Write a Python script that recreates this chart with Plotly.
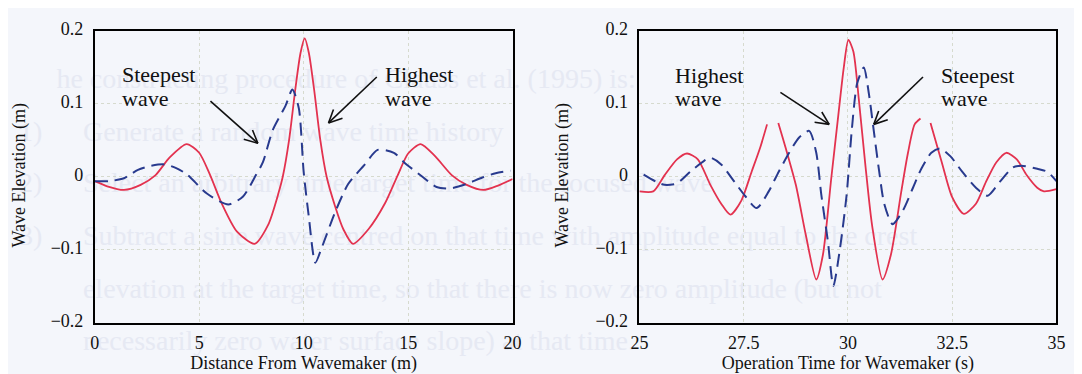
import math
import plotly.graph_objects as go

# ---------------- data ----------------
# Left panel: Distance From Wavemaker (m)
dist_red_x = [0, 0.6, 1.4, 2.2, 2.9, 3.6, 4.4, 5.0, 5.5, 6.1, 6.8, 7.65, 8.3, 8.8,
              9.0, 9.3, 9.6, 9.85, 10.05, 10.25, 10.5, 10.8, 11.1, 11.5, 11.9, 12.36,
              13.1, 13.9, 14.5, 15.0, 15.6, 16.3, 17.1, 17.8, 18.6, 19.3, 20]
dist_red_y = [-0.006, -0.013, -0.018, -0.011, 0.002, 0.027, 0.045, 0.033, 0.004, -0.038,
              -0.075, -0.092, -0.066, -0.022, 0.0, 0.05, 0.12, 0.17, 0.19, 0.17, 0.12,
              0.05, 0.0, -0.04, -0.072, -0.092, -0.072, -0.036, 0.002, 0.032, 0.045,
              0.028, 0.002, -0.011, -0.018, -0.012, -0.003]

dist_blue_x = [0, 0.67, 1.4, 2.07, 2.7, 3.34, 3.9, 4.43, 5.37, 6.4, 7.1, 7.73, 8.05, 8.52,
               9.14, 9.46, 9.77, 10.0, 10.24, 10.56, 10.87, 11.5, 12.13, 12.9, 13.54,
               14.32, 14.8, 15.73, 16.36, 17.0, 17.77, 18.55, 19.19, 19.9]
dist_blue_y = [-0.006, -0.006, -0.002, 0.0095, 0.015, 0.017, 0.012, 0.003, -0.023, -0.038,
               -0.027, 0.003, 0.02, 0.064, 0.098, 0.12, 0.094, 0.007, -0.053, -0.118,
               -0.097, -0.049, -0.01, 0.016, 0.037, 0.033, 0.02, -0.001, -0.014, -0.016,
               -0.01, -0.001, 0.005, 0.0085]

# Right panel: Operation Time for Wavemaker (s)  (None = gap in the red trace)
time_red_x = [25.0, 25.33, 25.6, 25.9, 26.14, 26.4, 26.7, 26.96, 27.18, 27.44, 27.69,
              27.9, 28.06, None, 28.33, 28.5, 28.75, 28.99, 29.24, 29.4, 29.6, 29.77,
              29.9, 30.01, 30.13, 30.26, 30.42, 30.58, 30.83, 31.03, 31.28, 31.44, 31.6,
              31.74, None, 31.98, 32.25, 32.5, 32.78, 33.07, 33.31, 33.56, 33.8, 34.05,
              34.29, 34.54, 34.7, 35.0]
time_red_y = [-0.02, -0.02, 0.002, 0.024, 0.032, 0.024, -0.011, -0.037, -0.052, -0.033,
              0.007, 0.041, 0.072, None, 0.074, 0.041, -0.011, -0.08, -0.141, -0.107,
              -0.002, 0.085, 0.15, 0.188, 0.172, 0.107, 0.015, -0.067, -0.141, -0.107,
              -0.02, 0.033, 0.072, 0.08, None, 0.074, 0.02, -0.028, -0.051, -0.037,
              -0.007, 0.02, 0.033, 0.024, 0.002, -0.015, -0.02, -0.017]

time_blue_x = [25.1, 25.41, 25.6, 25.9, 26.22, 26.55, 26.71, 26.96, 27.28, 27.53, 27.81,
               28.1, 28.34, 28.59, 28.83, 29.07, 29.24, 29.36, 29.52, 29.65, 29.81, 29.97,
               30.09, 30.22, 30.38, 30.5, 30.62, 30.75, 30.87, 31.07, 31.32, 31.56, 31.76,
               32.0, 32.21, 32.46, 32.74, 33.07, 33.35, 33.64, 33.96, 34.2, 34.54, 34.78,
               35.0]
time_blue_y = [0.003, -0.007, -0.011, -0.009, 0.007, 0.022, 0.026, 0.017, -0.007, -0.026,
               -0.043, -0.02, 0.007, 0.033, 0.054, 0.063, 0.033, -0.024, -0.089, -0.15,
               -0.098, -0.024, 0.063, 0.128, 0.15, 0.115, 0.063, 0.007, -0.037, -0.065,
               -0.046, -0.015, 0.011, 0.033, 0.039, 0.028, 0.007, -0.015, -0.026, -0.007,
               0.013, 0.015, 0.011, 0.007, -0.006]

y_ticks = [-0.2, -0.1, 0, 0.1, 0.2]
y_ticktext = ["\u22120.2", "\u22120.1", "0", "0.1", "0.2"]
x1_ticks = [0, 5, 10, 15, 20]
x1_ticktext = ["0", "5", "10", "15", "20"]
x2_ticks = [25, 27.5, 30, 32.5, 35]
x2_ticktext = ["25", "27.5", "30", "32.5", "35"]

x1_title = "Distance From Wavemaker (m)"
x2_title = "Operation Time for Wavemaker (s)"
y_title = "Wave Elevation (m)"

# labels: (text line, x, y) in data coords
left_labels = [("Steepest", 1.2, 0.14), ("wave", 1.2, 0.107),
               ("Highest", 13.8, 0.14), ("wave", 13.8, 0.107)]
right_labels = [("Highest", 25.8, 0.139), ("wave", 25.8, 0.107),
                ("Steepest", 32.19, 0.139), ("wave", 32.19, 0.107)]
# arrows: (tail x, tail y, head x, head y)
left_arrows = [(5.54, 0.104, 7.81, 0.046), (13.5, 0.137, 11.19, 0.074)]
right_arrows = [(28.38, 0.116, 29.55, 0.072), (31.8, 0.137, 30.62, 0.072)]

# faint show-through text of the scanned page
ghost_text = ["he constructing procedure of Clauss et al. (1995) is:",
              "1)", "Generate a random wave time history",
              "2)", "Select an arbitrary time target time for the focused wave",
              "3)", "Subtract a sine wave centred on that time with amplitude equal to the crest",
              "elevation at the target time, so that there is now zero amplitude (but not",
              "necessarily zero water surface slope) at that time."]
ghost_x = [58, 20, 85, 20, 85, 20, 85, 85, 85]
ghost_y = [68, 124, 124, 178, 178, 234, 234, 290, 345]

# ---------------- figure ----------------
W, H = 1082, 374
L1, R1 = 79, 504
L2, R2 = 633, 1057
TOP, BOT = 12.5, 320

RED = "#e3324f"
BLUE = "#283a8e"
FONT = "Liberation Serif"

fig = go.Figure()
fig.add_trace(go.Scatter(x=dist_red_x, y=dist_red_y, mode="lines", xaxis="x", yaxis="y",
                         line=dict(color=RED, width=1.8, shape="spline", smoothing=0.7),
                         connectgaps=False, showlegend=False))
fig.add_trace(go.Scatter(x=dist_blue_x, y=dist_blue_y, mode="lines", xaxis="x", yaxis="y",
                         line=dict(color=BLUE, width=2, dash="13px,7px", shape="spline", smoothing=0.7),
                         showlegend=False))
fig.add_trace(go.Scatter(x=time_red_x, y=time_red_y, mode="lines", xaxis="x2", yaxis="y2",
                         line=dict(color=RED, width=1.8, shape="spline", smoothing=0.7),
                         connectgaps=False, showlegend=False))
fig.add_trace(go.Scatter(x=time_blue_x, y=time_blue_y, mode="lines", xaxis="x2", yaxis="y2",
                         line=dict(color=BLUE, width=2, dash="13px,7px", shape="spline", smoothing=0.7),
                         showlegend=False))

grid = dict(showgrid=True, gridcolor="rgba(190,195,170,0.55)", gridwidth=1, griddash="dot",
            zeroline=False, showline=True, linecolor="black", linewidth=1.6, mirror=True,
            ticks="", tickfont=dict(family=FONT, size=18, color="#111"))

YR = [-0.2004, 0.2004]
fig.update_layout(
    width=W, height=H, margin=dict(l=0, r=0, t=0, b=0),
    paper_bgcolor="#f4f6fb", plot_bgcolor="rgba(0,0,0,0)",
    font=dict(family=FONT, color="#111"),
    xaxis=dict(domain=[L1 / W, R1 / W], range=[0, 20], tickvals=x1_ticks, ticktext=x1_ticktext,
               anchor="y", ticklabelstandoff=3,
               title=dict(text=x1_title, font=dict(size=18), standoff=2), **grid),
    yaxis=dict(domain=[1 - BOT / H, 1 - TOP / H], range=YR, tickvals=y_ticks,
               ticktext=y_ticktext, anchor="x", ticklabelstandoff=6, ticklabelshift=-2, **grid),
    xaxis2=dict(domain=[L2 / W, R2 / W], range=[25, 35], tickvals=x2_ticks, ticktext=x2_ticktext,
                anchor="y2", ticklabelstandoff=3,
                title=dict(text=x2_title, font=dict(size=18), standoff=2), **grid),
    yaxis2=dict(domain=[1 - BOT / H, 1 - TOP / H], range=YR, tickvals=y_ticks,
                ticktext=y_ticktext, anchor="x2", ticklabelstandoff=6, ticklabelshift=-2, **grid),
)

# ghost text as below-layer shape labels (empirical offset correction)
GX_OFF, GY_OFF = -21, -9
shapes = []
for t, gx, gy in zip(ghost_text, ghost_x, ghost_y):
    x0 = gx + GX_OFF
    yc = gy + GY_OFF
    shapes.append(dict(type="rect", xref="paper", yref="paper", layer="below",
                       x0=x0 / W, x1=(x0 + 2) / W, y0=1 - (yc + 14) / H, y1=1 - (yc - 14) / H,
                       line=dict(width=0), fillcolor="rgba(0,0,0,0)",
                       label=dict(text=t, textposition="middle left", padding=0,
                                  font=dict(family=FONT, size=28, color="#e6e9f3"))))


def arrow(xr, yr, tx, ty, hx, hy, sx, sy):
    dx, dy = (hx - tx) * sx, (hy - ty) * sy
    ln = math.hypot(dx, dy)
    ux, uy = -dx / ln, -dy / ln
    out = [dict(type="line", xref=xr, yref=yr, x0=tx, y0=ty, x1=hx, y1=hy,
                line=dict(color="#111", width=1.6))]
    for a in (0.45, -0.45):
        rx = ux * math.cos(a) - uy * math.sin(a)
        ry = ux * math.sin(a) + uy * math.cos(a)
        out.append(dict(type="line", xref=xr, yref=yr, x0=hx, y0=hy,
                        x1=hx + 15 * rx / sx, y1=hy + 15 * ry / sy,
                        line=dict(color="#111", width=1.6)))
    return out


sy = (BOT - TOP) / (YR[1] - YR[0])
for a in left_arrows:
    shapes += arrow("x", "y", *a, (R1 - L1) / 20, sy)
for a in right_arrows:
    shapes += arrow("x2", "y2", *a, (R2 - L2) / 10, sy)
fig.update_layout(shapes=shapes)

ann = []
for t, x, y in left_labels:
    ann.append(dict(x=x, y=y, xref="x", yref="y", text=t, showarrow=False, xanchor="left",
                    font=dict(family=FONT, size=22, color="#111")))
for t, x, y in right_labels:
    ann.append(dict(x=x, y=y, xref="x2", yref="y2", text=t, showarrow=False, xanchor="left",
                    font=dict(family=FONT, size=22, color="#111")))
# y-axis titles placed as rotated annotations
for xpix in (3, 555):
    ann.append(dict(x=xpix / W, y=1 - 164 / H, xref="paper", yref="paper", text=y_title,
                    textangle=-90, showarrow=False, xanchor="center", yanchor="middle",
                    font=dict(family=FONT, size=18, color="#111")))
fig.update_layout(annotations=ann)

fig.write_html("out.html")
